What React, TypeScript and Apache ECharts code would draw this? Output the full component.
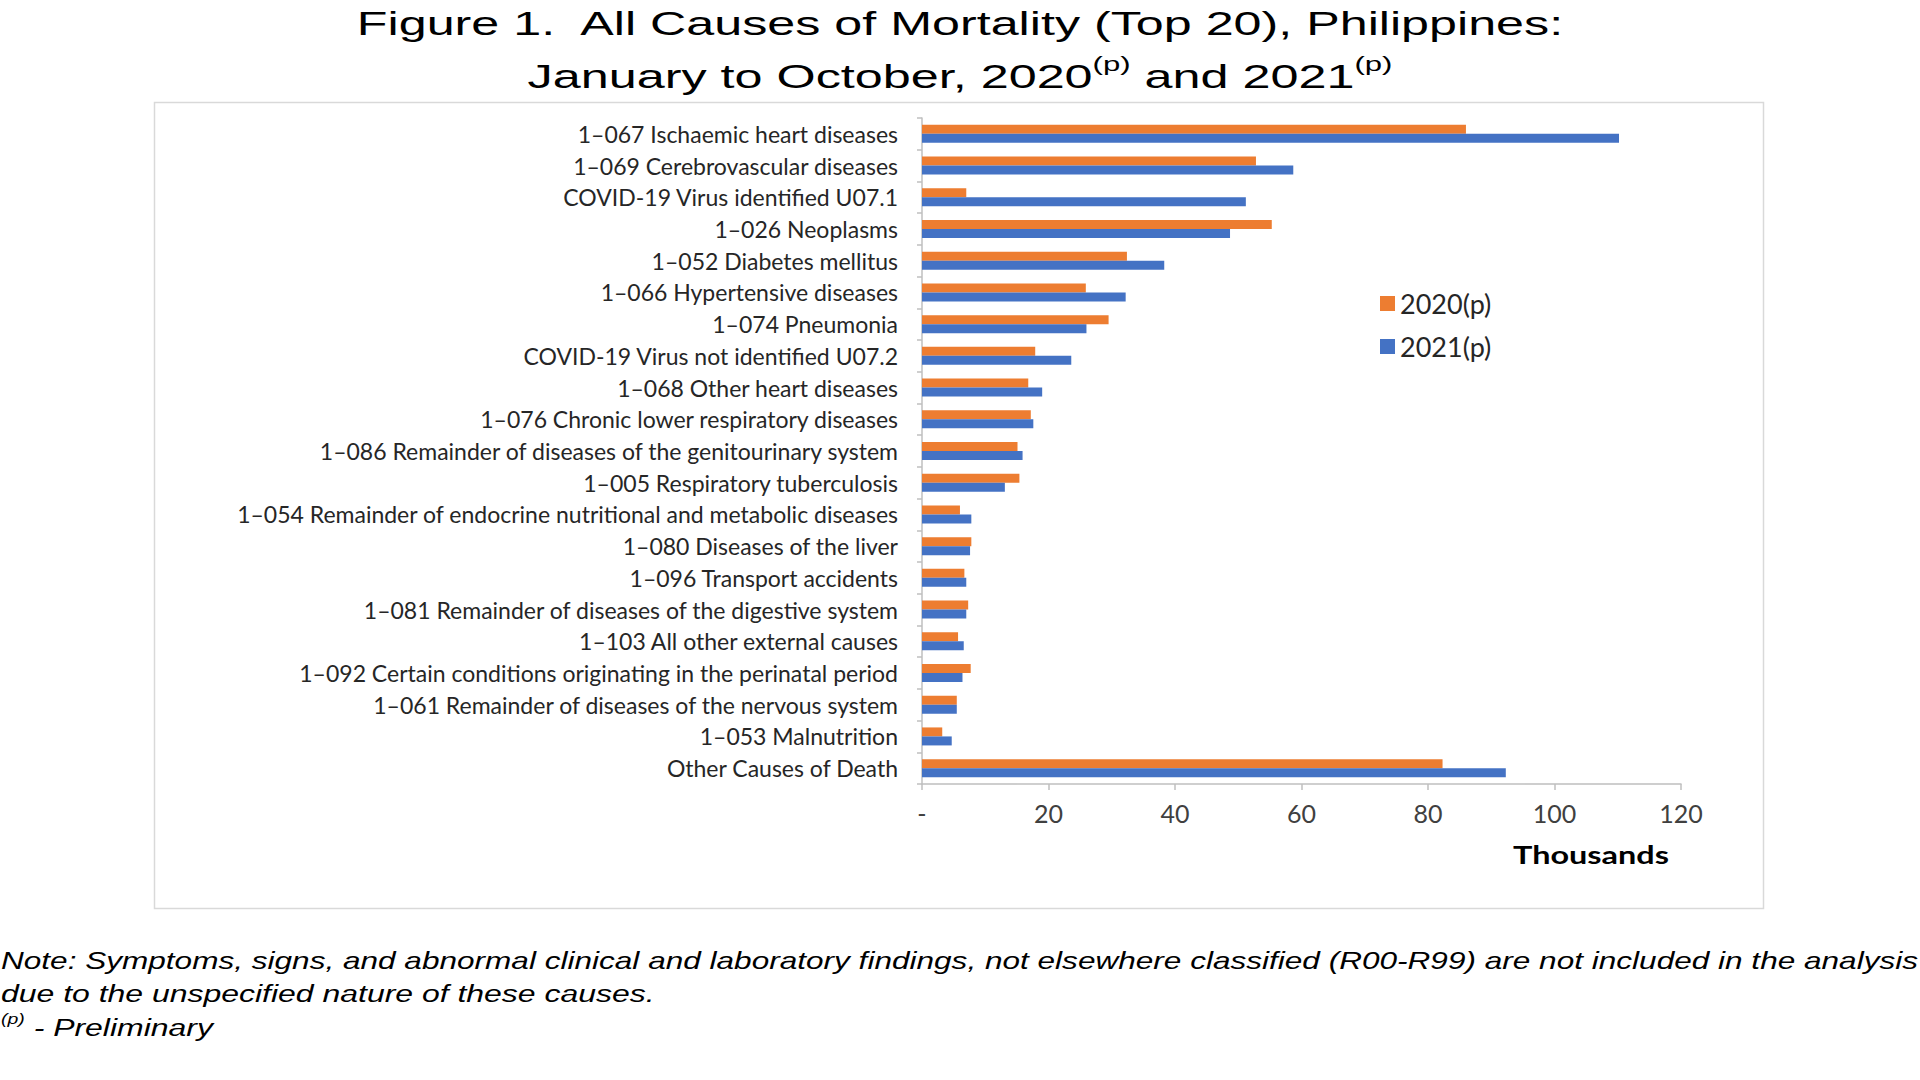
import React, { useEffect, useRef } from "react";
import * as echarts from "echarts";

const categories = [
  "1–067 Ischaemic heart diseases",
  "1–069 Cerebrovascular diseases",
  "COVID-19 Virus identified U07.1",
  "1–026 Neoplasms",
  "1–052 Diabetes mellitus",
  "1–066 Hypertensive diseases",
  "1–074 Pneumonia",
  "COVID-19 Virus not identified U07.2",
  "1–068 Other heart diseases",
  "1–076 Chronic lower respiratory diseases",
  "1–086 Remainder of diseases of the genitourinary system",
  "1–005 Respiratory tuberculosis",
  "1–054 Remainder of endocrine nutritional and metabolic diseases",
  "1–080 Diseases of the liver",
  "1–096 Transport accidents",
  "1–081 Remainder of diseases of the digestive system",
  "1–103 All other external causes",
  "1–092 Certain conditions originating in the perinatal period",
  "1–061 Remainder of diseases of the nervous system",
  "1–053 Malnutrition",
  "Other Causes of Death",
];

const values2020 = [86.0, 52.8, 7.0, 55.3, 32.4, 25.9, 29.5, 17.9, 16.8, 17.2, 15.1, 15.4, 6.0, 7.8, 6.7, 7.3, 5.7, 7.7, 5.5, 3.2, 82.3];
const values2021 = [110.2, 58.7, 51.2, 48.7, 38.3, 32.2, 26.0, 23.6, 19.0, 17.6, 15.9, 13.1, 7.8, 7.6, 7.0, 7.0, 6.6, 6.4, 5.5, 4.7, 92.3];

const seriesNames = ["2020(p)", "2021(p)"];
const xTicks = { min: 0, max: 120, interval: 20 };
const axisTitle = "Thousands";
const titleLine1 = "Figure 1.  All Causes of Mortality (Top 20), Philippines:";
const noteLine1 = "Note: Symptoms, signs, and abnormal clinical and laboratory findings, not elsewhere classified (R00-R99) are not included in the analysis";
const noteLine2 = "due to the unspecified nature of these causes.";

const ORANGE = "#ED7D31";
const BLUE = "#4472C4";
const LABEL = "Lato, 'Open Sans', sans-serif";
const ARIAL = "'Liberation Sans', Arial, sans-serif";

export default function App() {
  const ref = useRef<HTMLDivElement>(null);
  useEffect(() => {
    if (!ref.current) return;
    const chart = echarts.init(ref.current, null, { renderer: "svg" });
    chart.setOption({
      animation: false,
      backgroundColor: "#ffffff",
      grid: { left: 922, top: 118, right: 239, bottom: 296, containLabel: false },
      legend: {
        data: seriesNames,
        orient: "vertical",
        left: 1375,
        top: 285,
        icon: "rect",
        itemWidth: 15,
        itemHeight: 15,
        itemGap: 16,
        textStyle: { fontFamily: LABEL, fontSize: 27, color: "#262626" },
      },
      xAxis: {
        type: "value",
        min: xTicks.min,
        max: xTicks.max,
        interval: xTicks.interval,
        axisLine: { show: true, lineStyle: { color: "#bfbfbf", width: 1.5 } },
        axisTick: { show: true, length: 6, lineStyle: { color: "#bfbfbf", width: 1.5 } },
        splitLine: { show: false },
        axisLabel: {
          fontFamily: LABEL,
          fontSize: 25,
          color: "#404040",
          margin: 16,
          formatter: (v: number) => (v === 0 ? "-" : String(v)),
        },
      },
      yAxis: {
        type: "category",
        inverse: true,
        data: categories,
        axisLine: { show: true, lineStyle: { color: "#bfbfbf", width: 1.5 } },
        axisTick: { show: true, length: 5, lineStyle: { color: "#bfbfbf", width: 1.5 } },
        axisLabel: { fontFamily: LABEL, fontSize: 23, color: "#262626", margin: 24 },
      },
      series: [
        {
          name: seriesNames[0],
          type: "bar",
          data: values2020,
          barWidth: 9,
          barGap: "0%",
          itemStyle: { color: ORANGE },
        },
        {
          name: seriesNames[1],
          type: "bar",
          data: values2021,
          barWidth: 9,
          barGap: "0%",
          itemStyle: { color: BLUE },
        },
      ],
      graphic: [
        {
          type: "rect",
          shape: { x: 154.5, y: 102.5, width: 1609, height: 806 },
          style: { fill: "none", stroke: "#d9d9d9", lineWidth: 1.5 },
          silent: true,
        },
        {
          type: "text",
          x: 960,
          y: 23,
          scaleX: 1.478,
          style: {
            text: titleLine1,
            font: `34px ${ARIAL}`,
            fill: "#000000",
            textAlign: "center",
            textVerticalAlign: "middle",
          },
        },
        {
          type: "text",
          x: 960,
          y: 73,
          scaleX: 1.48,
          style: {
            text: "{a|January to October, 2020}{s|(p)}{a| and 2021}{s|(p)}",
            textAlign: "center",
            textVerticalAlign: "middle",
            rich: {
              a: { fontFamily: ARIAL, fontSize: 34, color: "#000", lineHeight: 40, verticalAlign: "bottom" },
              s: { fontFamily: ARIAL, fontSize: 21, color: "#000", lineHeight: 40, verticalAlign: "top", padding: [0, 0, 14, 0] },
            },
          },
        },
        {
          type: "text",
          x: 1591,
          y: 855,
          scaleX: 1.35,
          style: {
            text: axisTitle,
            font: `bold 24px ${LABEL}`,
            fill: "#000000",
            textAlign: "center",
            textVerticalAlign: "middle",
          },
        },
        {
          type: "text",
          x: 1,
          y: 961,
          scaleX: 1.372,
          style: {
            text: noteLine1,
            font: `italic 23px ${ARIAL}`,
            fill: "#000000",
            textAlign: "left",
            textVerticalAlign: "middle",
          },
        },
        {
          type: "text",
          x: 1,
          y: 994,
          scaleX: 1.39,
          style: {
            text: noteLine2,
            font: `italic 23px ${ARIAL}`,
            fill: "#000000",
            textAlign: "left",
            textVerticalAlign: "middle",
          },
        },
        {
          type: "text",
          x: 1,
          y: 1026,
          scaleX: 1.39,
          style: {
            text: "{s|(p)}{a| - Preliminary}",
            textAlign: "left",
            textVerticalAlign: "middle",
            rich: {
              a: { fontFamily: ARIAL, fontStyle: "italic", fontSize: 23, color: "#000", lineHeight: 28, verticalAlign: "bottom" },
              s: { fontFamily: ARIAL, fontStyle: "italic", fontSize: 14, color: "#000", lineHeight: 28, verticalAlign: "top", padding: [0, 0, 10, 0] },
            },
          },
        },
      ],
    });
    return () => chart.dispose();
  }, []);
  return (
    <div
      ref={ref}
      style={{ position: "absolute", left: 0, top: 0, width: 1920, height: 1080 }}
    />
  );
}
